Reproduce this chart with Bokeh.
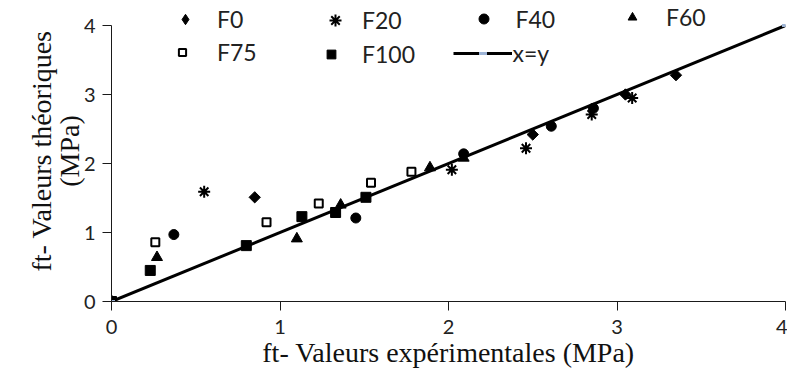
import math
from bokeh.plotting import figure
from bokeh.models import Legend, LegendItem, Range1d, FixedTicker
from bokeh.embed import file_html
from bokeh.resources import INLINE

# ---- data ----
f0_x = [0, 0.85, 2.50, 3.05, 3.35]
f0_y = [0, 1.51, 2.42, 3.00, 3.28]
f20_x = [0, 0.55, 2.02, 2.46, 2.85, 3.09]
f20_y = [0, 1.59, 1.91, 2.22, 2.71, 2.95]
f40_x = [0, 0.37, 1.45, 2.09, 2.61, 2.86]
f40_y = [0, 0.97, 1.21, 2.14, 2.54, 2.80]
f60_x = [0, 0.27, 1.10, 1.36, 1.89, 2.09]
f60_y = [0, 0.64, 0.91, 1.40, 1.94, 2.08]
f75_x = [0, 0.26, 0.92, 1.23, 1.54, 1.78]
f75_y = [0, 0.86, 1.15, 1.42, 1.72, 1.88]
f100_x = [0, 0.23, 0.80, 1.13, 1.33, 1.51]
f100_y = [0, 0.45, 0.81, 1.23, 1.29, 1.51]
line_x = [0, 4]
line_y = [0, 4]
ticks = [0, 1, 2, 3, 4]

TICK_FONT = "Lato"
TITLE_FONT = "Liberation Serif"

FRAME_L, FRAME_B = 111, 301        # frame left / bottom (px)
Y_TOP = 4 + 25 / 69.0              # the frame reaches the top edge, axis stops at 4

p = figure(width=787, height=373, output_backend="svg", toolbar_location=None,
           x_range=Range1d(0, 4), y_range=Range1d(0, Y_TOP),
           min_border_left=FRAME_L, min_border_right=2, min_border_top=0,
           min_border_bottom=373 - FRAME_B)
p.outline_line_color = None
p.xgrid.visible = False
p.ygrid.visible = False

for ax in (p.xaxis[0], p.yaxis[0]):
    ax.ticker = FixedTicker(ticks=ticks)
    ax.bounds = (0, 4)
    ax.minor_tick_line_color = None
    ax.major_tick_in = 0
    ax.major_tick_out = 9
    ax.axis_line_color = "#1a1a1a"
    ax.major_tick_line_color = "#1a1a1a"
    ax.major_label_text_font = TICK_FONT
    ax.major_label_text_font_size = "20px"
    ax.major_label_text_color = "#222222"
    ax.axis_label_text_font = TITLE_FONT
    ax.axis_label_text_font_style = "normal"
    ax.axis_label_text_font_size = "28px"
    ax.axis_label_text_color = "#111111"

p.xaxis.axis_label = "ft- Valeurs expérimentales (MPa)"
p.yaxis.axis_label = "ft- Valeurs théoriques\n(MPa)"
p.yaxis.axis_label_text_line_height = 0.9
p.xaxis.major_label_standoff = 9
p.xaxis.axis_label_standoff = 0
p.yaxis.major_label_standoff = 7
p.yaxis.axis_label_standoff = -4

# legend key for F0 (a true diamond), hidden under the rotated squares of the plot
r0_key = p.scatter(f0_x, f0_y, marker="diamond", size=8, color="black")
r0 = p.scatter(f0_x, f0_y, marker="square", angle=math.pi / 4, size=8, color="black")
r20 = p.scatter(f20_x, f20_y, marker="asterisk", size=12, line_color="black", line_width=2)
r40 = p.scatter(f40_x, f40_y, marker="circle", size=10, color="black")
r60 = p.scatter(f60_x, f60_y, marker="triangle", size=11, color="black")
r75 = p.scatter(f75_x, f75_y, marker="square", size=8, fill_color="white", line_color="black", line_width=2)
r100 = p.scatter(f100_x, f100_y, marker="square", size=10, color="black")
r_line = p.line(line_x, line_y, line_color="black", line_width=3)
r_line_m = p.scatter(line_x, line_y, marker="dash", size=7, line_color="#9db4d6", line_width=3)


def add_item(label, renderers, cx, cy, gw=20, gh=20, standoff=20):
    # cx, cy: picture coordinates of the glyph centre
    vx = (cx - FRAME_L) - gw / 2
    vy = (FRAME_B - cy) - gh / 2
    leg = Legend(items=[LegendItem(label=label, renderers=renderers)],
                 location=(vx, vy), orientation="horizontal",
                 padding=0, margin=0, spacing=0,
                 glyph_width=gw, glyph_height=gh, label_height=gh,
                 label_standoff=standoff,
                 border_line_color=None, background_fill_alpha=0,
                 label_text_font=TICK_FONT, label_text_font_size="23px",
                 label_text_color="#222222", label_text_baseline="middle")
    p.add_layout(leg, "center")


add_item("F0", [r0_key], 185, 20, gw=26, gh=26, standoff=19)
add_item("F20", [r20], 335, 20, gw=30, gh=30, standoff=12)
add_item("F40", [r40], 483, 20, gw=25, gh=25, standoff=20)
add_item("F60", [r60], 632, 20, gw=22, gh=22, standoff=23)
add_item("F75", [r75], 182, 57, gw=18, gh=18, standoff=26)
add_item("F100", [r100], 331, 57, gw=22, gh=22, standoff=20)
add_item("x=y", [r_line, r_line_m], 482, 57, gw=59, gh=20, standoff=1)

open("out.html", "w").write(file_html(p, INLINE))
